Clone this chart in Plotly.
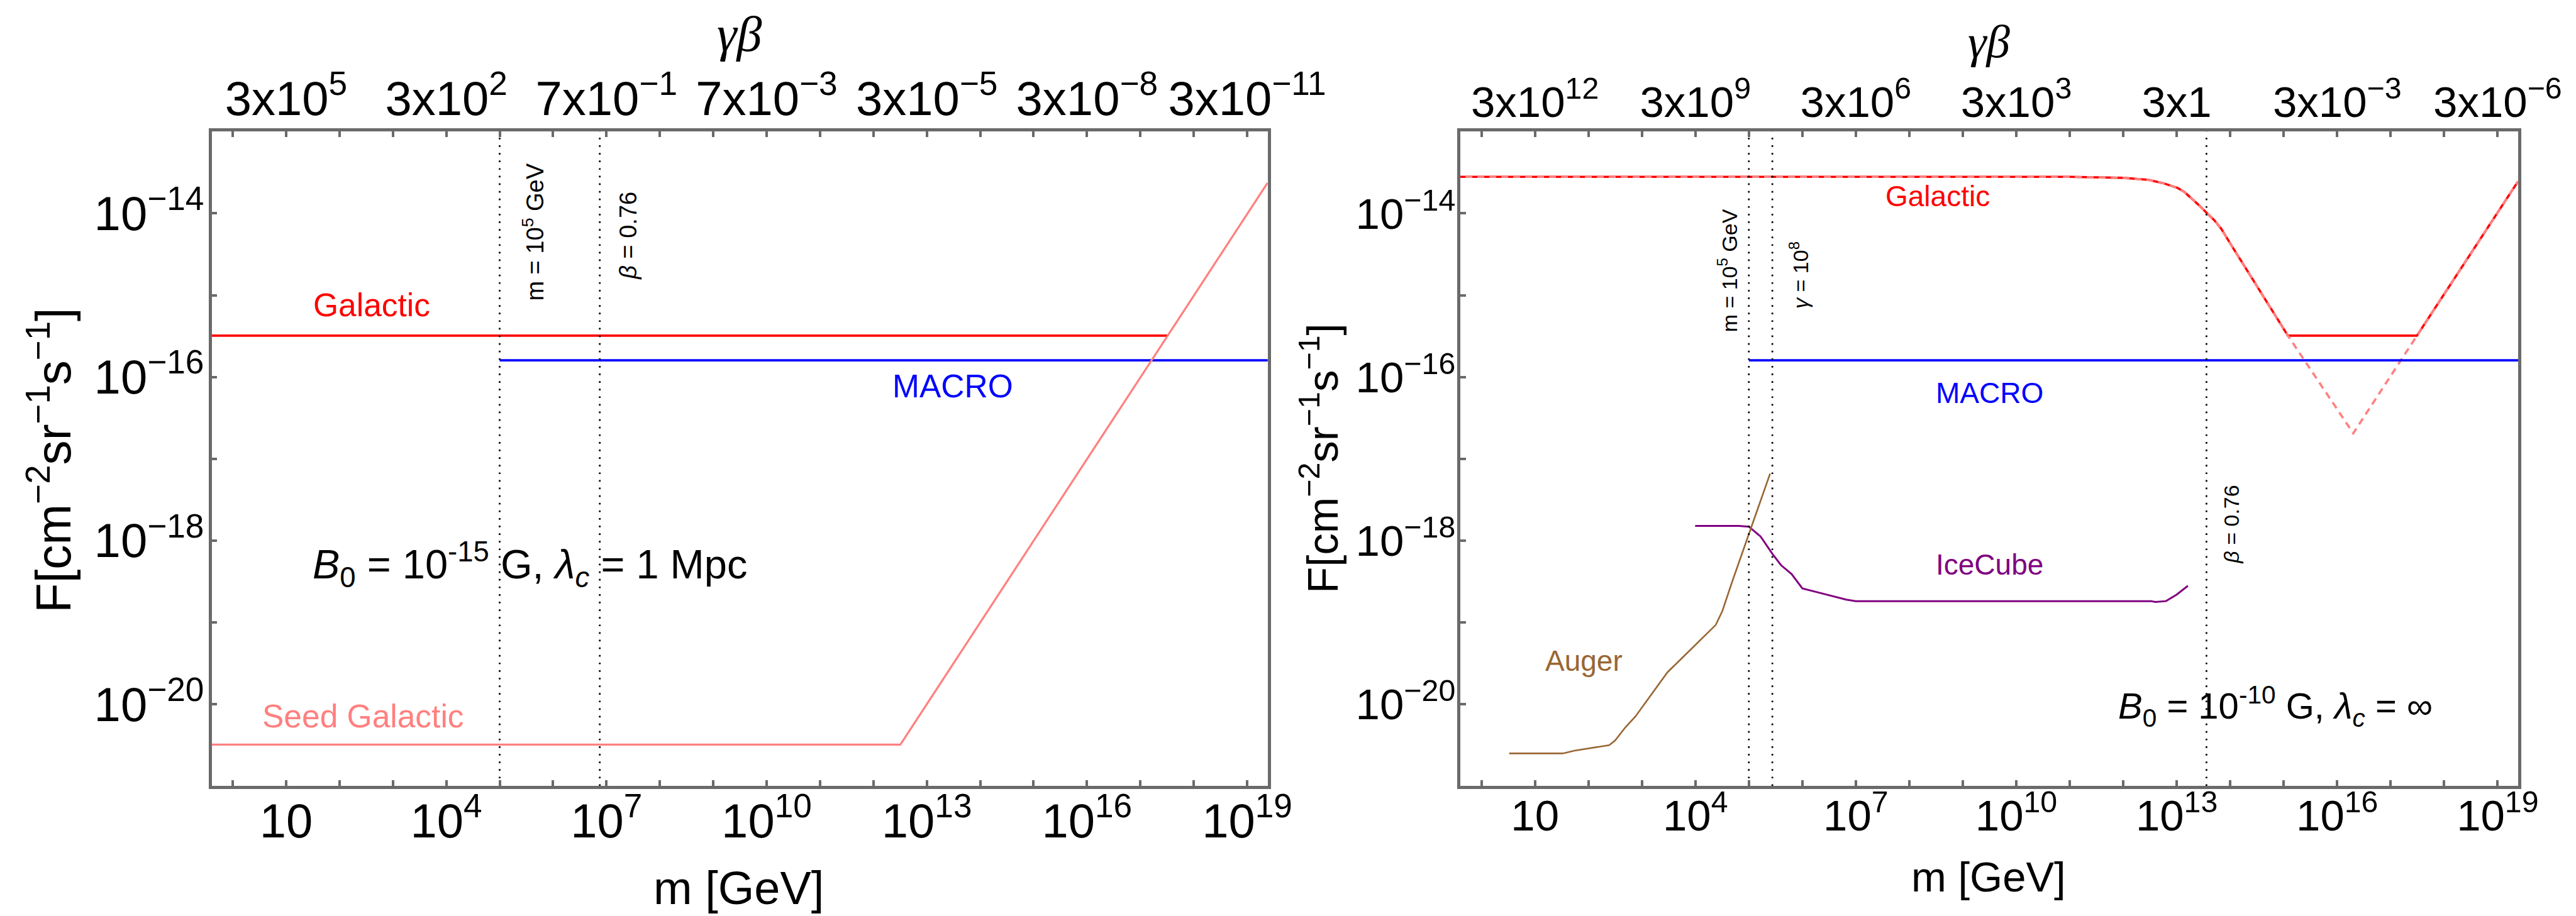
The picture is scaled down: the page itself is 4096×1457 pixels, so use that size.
import plotly.graph_objects as go

W, H = 4096, 1457
OFF = 8  # the page body has an 8 px margin; positions below are screen pixels

# ---------------- data ----------------
X_RANGE = [-0.395, 19.385]          # log10(m / GeV)
Y_LO, Y_HI = 1e-21, 1e-13
x_minor_decades = list(range(0, 20))
y_minor_decades = list(range(-21, -12))

x_label_decades = [1, 4, 7, 10, 13, 16, 19]
bottom_tick_labels = ["10", "10<sup>4</sup>", "10<sup>7</sup>", "10<sup>10</sup>",
                      "10<sup>13</sup>", "10<sup>16</sup>", "10<sup>19</sup>"]
left_top_tick_labels = ["3x10<sup>5</sup>", "3x10<sup>2</sup>", "7x10<sup>−1</sup>",
                        "7x10<sup>−3</sup>", "3x10<sup>−5</sup>", "3x10<sup>−8</sup>",
                        "3x10<sup>−11</sup>"]
right_top_tick_labels = ["3x10<sup>12</sup>", "3x10<sup>9</sup>", "3x10<sup>6</sup>",
                         "3x10<sup>3</sup>", "3x1", "3x10<sup>−3</sup>", "3x10<sup>−6</sup>"]
y_label_decades = [-20, -18, -16, -14]
y_tick_labels = ["10<sup>−20</sup>", "10<sup>−18</sup>", "10<sup>−16</sup>", "10<sup>−14</sup>"]

# Left panel (B0 = 1e-15 G, lambda_c = 1 Mpc)
left_gal_m = [0.3, 3.2e17]
left_gal_F = [3.2e-16, 3.2e-16]
left_seed_m = [0.3, 3.2e12, 2.4e19]
left_seed_F = [3.2e-21, 3.2e-21, 2.35e-14]
left_macro_m = [1e5, 3e19]
left_macro_F = [1.6e-16, 1.6e-16]
left_vlines_m = [1e5, 7.5e6]

# Right panel (B0 = 1e-10 G, lambda_c = inf)
right_seed_m = [0.3, 1e11, 1e12, 2.95e12, 5.6e12, 1.05e13, 1.4e13, 1.95e13, 2.6e13,
                3.6e13, 5e13, 6.8e13, 1e14, 1.2e15, 2e16, 3.1e17, 2.4e19]
right_seed_F = [2.8e-14, 2.8e-14, 2.72e-14, 2.57e-14, 2.34e-14, 2.04e-14, 1.82e-14, 1.51e-14,
                1.26e-14, 1.02e-14, 8.3e-15, 6.5e-15, 4.3e-15, 3.2e-16, 2.05e-17, 3.2e-16, 2.45e-14]
right_gal_m = [0.3, 1e11, 1e12, 2.95e12, 5.6e12, 1.05e13, 1.4e13, 1.95e13, 2.6e13,
               3.6e13, 5e13, 6.8e13, 1e14, 1.2e15, 3.1e17, 2.4e19]
right_gal_F = [2.8e-14, 2.8e-14, 2.72e-14, 2.57e-14, 2.34e-14, 2.04e-14, 1.82e-14, 1.51e-14,
               1.26e-14, 1.02e-14, 8.3e-15, 6.5e-15, 4.3e-15, 3.2e-16, 3.2e-16, 2.45e-14]
right_macro_m = [1e5, 3e19]
right_macro_F = [1.6e-16, 1.6e-16]
auger_m = [3.3, 25.7, 33, 55, 132, 245, 316, 490, 760, 3000, 2.4e4, 3.2e4, 5e4, 1e5, 1.66e5, 2.5e5]
auger_F = [2.5e-21, 2.5e-21, 2.5e-21, 2.7e-21, 2.95e-21, 3.16e-21, 3.6e-21, 5.2e-21, 7.1e-21,
           2.45e-20, 9.3e-20, 1.38e-19, 3.3e-19, 1.2e-18, 3.0e-18, 6.6e-18]
icecube_m = [9.9e3, 6.5e4, 1e5, 1.66e5, 2.75e5, 4e5, 6.3e5, 1e6, 2.45e6, 6.6e6, 1e7,
             3.3e12, 4e12, 6.3e12, 1e13, 1.62e13]
icecube_F = [1.51e-18, 1.51e-18, 1.48e-18, 1.12e-18, 6.9e-19, 5.0e-19, 3.9e-19, 2.6e-19,
             2.24e-19, 1.9e-19, 1.82e-19, 1.82e-19, 1.78e-19, 1.82e-19, 2.19e-19, 2.8e-19]
right_vlines_m = [1e5, 2.75e5, 3.6e13]

# ---------------- styles ----------------
RED = "#FF0000"
SEED = "#FF8080"
BLUE = "#0000FF"
PURPLE = "#800080"
BROWN = "#996633"
FRAME = "#6a6a6a"
SANS = "Liberation Sans, Arial, sans-serif"
SERIF = "Liberation Serif, Times New Roman, serif"


def px(x):
    return (x - OFF) / W


def py(y):
    return 1 - (y - OFF) / H


LEFT_DOM = [px(336.5), px(2015.7)]
RIGHT_DOM = [px(2322.0), px(4004.1)]
Y_DOM = [py(1250.2), py(209.3)]

fig = go.Figure()


def line(xs, ys, color, width, xa, ya, dash="solid"):
    fig.add_trace(go.Scatter(x=xs, y=ys, mode="lines", xaxis=xa, yaxis=ya,
                             line=dict(color=color, width=width, dash=dash),
                             hoverinfo="skip", showlegend=False))


def vline(m, xa, ya):
    line([m, m], [Y_LO, Y_HI], "black", 2.7, xa, ya, dash="2.7px,9.4px")


# left panel
for m in left_vlines_m:
    vline(m, "x3", "y")
line(left_gal_m, left_gal_F, RED, 3.7, "x", "y")
line(left_macro_m, left_macro_F, BLUE, 3.7, "x", "y")
line(left_seed_m, left_seed_F, SEED, 3.2, "x", "y")

# right panel
for m in right_vlines_m:
    vline(m, "x4", "y2")
line(right_gal_m, right_gal_F, RED, 3.6, "x2", "y2")
line(right_seed_m, right_seed_F, SEED, 3.6, "x2", "y2", dash="11px,8px")
line(right_macro_m, right_macro_F, BLUE, 3.7, "x2", "y2")
line(icecube_m, icecube_F, PURPLE, 3.0, "x2", "y2")
line(auger_m, auger_F, BROWN, 2.6, "x2", "y2")

TICK = dict(ticks="inside", ticklen=9, tickwidth=4, tickcolor=FRAME)


def xaxis(domain, labels, size, standoff, side="bottom", overlay=None, anchor="y"):
    d = dict(type="log", range=X_RANGE, domain=domain, anchor=anchor, side=side,
             automargin=False, showgrid=False, zeroline=False,
             showline=True, linecolor=FRAME, linewidth=4.8,
             tickmode="array", tickvals=[10.0 ** d_ for d_ in x_label_decades],
             ticktext=labels, ticklabelstandoff=standoff,
             minor=dict(tickmode="array", tickvals=[10.0 ** d_ for d_ in x_minor_decades],
                        showgrid=False, **TICK),
             tickfont=dict(family=SANS, size=size, color="black"), **TICK)
    if overlay:
        d["overlaying"] = overlay
    return d


def yaxis(size, anchor, standoff):
    return dict(type="log", range=[-21, -13], domain=Y_DOM, anchor=anchor,
                automargin=False, showgrid=False, zeroline=False, showline=True, mirror=True,
                linecolor=FRAME, linewidth=4.8,
                tickmode="array", tickvals=[10.0 ** d_ for d_ in y_label_decades],
                ticktext=y_tick_labels, ticklabelstandoff=standoff,
                minor=dict(tickmode="array", tickvals=[10.0 ** d_ for d_ in y_minor_decades],
                           showgrid=False, **TICK),
                tickfont=dict(family=SANS, size=size, color="black"), **TICK)


LFS, RFS = 76, 69
fig.update_layout(
    width=W, height=H, autosize=False,
    margin=dict(l=0, r=0, t=0, b=0, autoexpand=False),
    paper_bgcolor="white", plot_bgcolor="white",
    showlegend=False,
    xaxis=xaxis(LEFT_DOM, bottom_tick_labels, LFS, -14, anchor="y"),
    xaxis3=xaxis(LEFT_DOM, left_top_tick_labels, LFS, -9, side="top", overlay="x", anchor="y"),
    yaxis=yaxis(LFS, "x", -8),
    xaxis2=xaxis(RIGHT_DOM, bottom_tick_labels, RFS, -17, anchor="y2"),
    xaxis4=xaxis(RIGHT_DOM, right_top_tick_labels, RFS, -9, side="top", overlay="x2", anchor="y2"),
    yaxis2=yaxis(RFS, "x2", -11),
)

ann = []


def text(t, x, y, size, color="black", xref="paper", yref="paper", angle=0, family=SANS):
    ann.append(dict(text=t, x=x, y=y, xref=xref, yref=yref, showarrow=False,
                    textangle=angle, xanchor="center", yanchor="middle",
                    font=dict(family=family, size=size, color=color)))


# axis titles
text("<i>γβ</i>", px(1176), py(54), 80, family=SERIF)
text("<i>γβ</i>", px(3163), py(66), 75, family=SERIF)
text("m [GeV]", px(1174.5), py(1412), 74)
text("m [GeV]", px(3162), py(1394.5), 67)
text("F[cm<sup>−2</sup>sr<sup>−1</sup>s<sup>−1</sup>]", px(80), py(732), 78, angle=-90)
text("F[cm<sup>−2</sup>sr<sup>−1</sup>s<sup>−1</sup>]", px(2098), py(729), 69, angle=-90)

# left panel labels (log10 data coordinates)
text("Galactic", 2.605, -15.116, 51.5, RED, "x", "y")
text("MACRO", 13.487, -16.11, 51.5, BLUE, "x", "y")
text("Seed Galactic", 2.449, -20.144, 51.5, SEED, "x", "y")
text("<i>B</i><sub>0</sub> = 10<sup>-15</sup> G, <i>λ</i><sub><i>c</i></sub> = 1 Mpc",
     5.563, -18.29, 65, "black", "x", "y")
text("m = 10<sup>5</sup> GeV", 5.629, -14.225, 38, "black", "x", "y", angle=-90)
text("<i>β</i> = 0.76", 7.40, -14.27, 38, "black", "x", "y", angle=-90)

# right panel labels
text("Galactic", 8.525, -13.792, 46, RED, "x2", "y2")
text("MACRO", 9.505, -16.193, 46, BLUE, "x2", "y2")
text("IceCube", 9.505, -18.29, 46, PURPLE, "x2", "y2")
text("Auger", 1.911, -19.47, 46, BROWN, "x2", "y2")
text("<i>B</i><sub>0</sub> = 10<sup>-10</sup> G, <i>λ</i><sub><i>c</i></sub> = ∞",
     14.84, -20.03, 58, "black", "x2", "y2")
text("m = 10<sup>5</sup> GeV", 4.60, -14.70, 34, "black", "x2", "y2", angle=-90)
text("<i>γ</i> = 10<sup>8</sup>", 5.93, -14.75, 34, "black", "x2", "y2", angle=-90)
text("<i>β</i> = 0.76", 14.02, -17.80, 34, "black", "x2", "y2", angle=-90)

fig.update_layout(annotations=ann)
fig.write_html("out.html")
